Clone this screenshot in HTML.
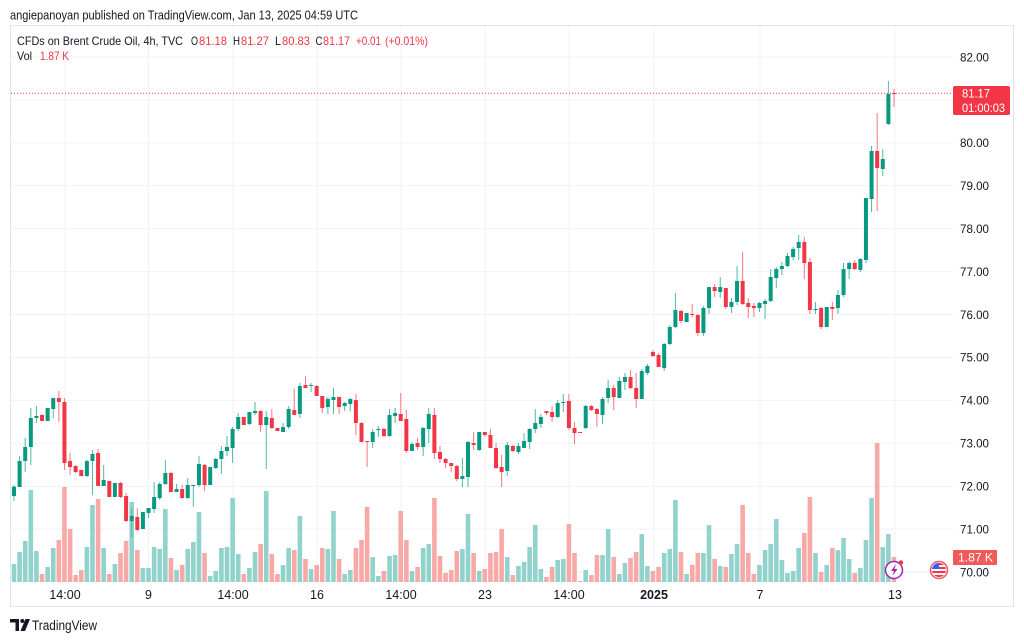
<!DOCTYPE html>
<html>
<head>
<meta charset="utf-8">
<style>
html,body{margin:0;padding:0;background:#fff;}
body{width:1024px;height:641px;overflow:hidden;}
svg{display:block;font-family:"Liberation Sans",sans-serif;}
</style>
</head>
<body>
<svg id="c" width="1024" height="641" viewBox="0 0 1024 641" xmlns="http://www.w3.org/2000/svg">
<rect x="0" y="0" width="1024" height="641" fill="#fff"/>
<text x="10" y="19.5" font-size="12.5" fill="#131722" textLength="348" lengthAdjust="spacingAndGlyphs">angiepanoyan published on TradingView.com, Jan 13, 2025 04:59 UTC</text>
<rect x="10.5" y="25.5" width="1003" height="581" fill="#fff" stroke="#e0e3eb" stroke-width="1"/>
<defs><clipPath id="pane"><rect x="11" y="26" width="942" height="556"/></clipPath>
<clipPath id="flag"><circle cx="939" cy="570" r="7"/></clipPath></defs>
<g id="grid" stroke="#f0f2f6" stroke-width="1"></g>
<g id="vol" clip-path="url(#pane)"></g>
<line x1="11" y1="93.3" x2="953" y2="93.3" stroke="#f23645" stroke-width="1" stroke-dasharray="1,2"/>
<g id="cnd" clip-path="url(#pane)"></g>
<g id="plab" font-size="12" fill="#131722"></g>
<g id="tlab" font-size="12.5" fill="#131722" text-anchor="middle"></g>

<!-- legend -->
<g font-size="12">
<text x="17" y="45" fill="#131722" textLength="166" lengthAdjust="spacingAndGlyphs">CFDs on Brent Crude Oil, 4h, TVC</text>
<text x="191" y="45" fill="#131722" textLength="7" lengthAdjust="spacingAndGlyphs">O</text><text x="199" y="45" fill="#f23645" textLength="28" lengthAdjust="spacingAndGlyphs">81.18</text>
<text x="233" y="45" fill="#131722" textLength="7" lengthAdjust="spacingAndGlyphs">H</text><text x="241" y="45" fill="#f23645" textLength="28" lengthAdjust="spacingAndGlyphs">81.27</text>
<text x="275" y="45" fill="#131722" textLength="6" lengthAdjust="spacingAndGlyphs">L</text><text x="282" y="45" fill="#f23645" textLength="28" lengthAdjust="spacingAndGlyphs">80.83</text>
<text x="315.5" y="45" fill="#131722" textLength="7" lengthAdjust="spacingAndGlyphs">C</text><text x="323" y="45" fill="#f23645" textLength="27" lengthAdjust="spacingAndGlyphs">81.17</text>
<text x="356" y="45" fill="#f23645" textLength="25" lengthAdjust="spacingAndGlyphs">+0.01</text>
<text x="385" y="45" fill="#f23645" textLength="43" lengthAdjust="spacingAndGlyphs">(+0.01%)</text>
<text x="17" y="60" fill="#131722" textLength="15" lengthAdjust="spacingAndGlyphs">Vol</text>
<text x="40" y="60" fill="#f23645" textLength="29" lengthAdjust="spacingAndGlyphs">1.87 K</text>
</g>

<!-- price label -->
<rect x="953" y="86" width="57" height="29" rx="2" fill="#f23645"/>
<text x="962" y="97.5" font-size="12" fill="#fff" textLength="28" lengthAdjust="spacingAndGlyphs">81.17</text>
<text x="962" y="112" font-size="12" fill="#fff" textLength="43" lengthAdjust="spacingAndGlyphs">01:00:03</text>
<!-- volume label -->
<rect x="953" y="550" width="44" height="15" rx="1" fill="#f05a5a"/>
<text x="958" y="561.5" font-size="11.5" fill="#fff" textLength="35" lengthAdjust="spacingAndGlyphs">1.87 K</text>

<!-- icons -->
<circle cx="894" cy="570" r="8.5" fill="#fff" stroke="#9c27b0" stroke-width="1.5"/>
<path d="M896 564 L891 571 H894 L892.5 576 L897.5 569 H894.5 Z" fill="#9c27b0"/>
<circle cx="901" cy="562.5" r="2.2" fill="#f23645"/>
<circle cx="939" cy="570" r="8.5" fill="#fff" stroke="#f7525f" stroke-width="1.5"/>
<g clip-path="url(#flag)">
<rect x="931" y="563" width="16" height="15" fill="#fff"/>
<rect x="931" y="563" width="16" height="2" fill="#f23645"/>
<rect x="931" y="567" width="16" height="2" fill="#f23645"/>
<rect x="931" y="571" width="16" height="2" fill="#f23645"/>
<rect x="931" y="575" width="16" height="2" fill="#f23645"/>
<rect x="931" y="563" width="8" height="6" fill="#2962ff"/>
</g>

<!-- logo -->
<path d="M10 619 H19 V631 H15.5 V622.5 H10 Z" fill="#131722"/>
<circle cx="22.3" cy="621" r="2" fill="#131722"/>
<path d="M25.5 619 H30 L25 631 H20.5 Z" fill="#131722"/>
<text x="32" y="630" font-size="13.5" fill="#131722" textLength="65" lengthAdjust="spacingAndGlyphs">TradingView</text>
</svg>
<script>
(function(){
var NS="http://www.w3.org/2000/svg";
function el(tag,attrs,parent,txt){var e=document.createElementNS(NS,tag);for(var k in attrs)e.setAttribute(k,attrs[k]);if(txt!==undefined)e.textContent=txt;parent.appendChild(e);return e;}
var grid=document.getElementById('grid');
for(var p=70;p<=82;p++){var y=57+(82-p)*42.92;el('line',{x1:11,y1:y,x2:953,y2:y},grid);}
var tx=[[65,'14:00'],[148.5,'9'],[233,'14:00'],[317,'16'],[401,'14:00'],[485,'23'],[569,'14:00'],[654,'2025'],[760,'7'],[895,'13']];
tx.forEach(function(t){el('line',{x1:t[0],y1:26,x2:t[0],y2:582},grid);});
var tl=document.getElementById('tlab');
tx.forEach(function(t){var a={x:t[0],y:599};if(t[1]==='2025')a['font-weight']='bold';el('text',a,tl,t[1]);});
var pl=document.getElementById('plab');
for(var p=70;p<=82;p++){if(p===81)continue;var y=57+(82-p)*42.92;el('text',{x:960,y:y+4.3,textLength:29,lengthAdjust:'spacingAndGlyphs'},pl,p.toFixed(2));}
var D=[
[491,496,491,496,'r',572],
[486.7,496,485,501,'g',564],[461,487,456,487,'g',552],[447,461,438,472,'g',541],[418,447,408,465,'g',490],[416,418,406,423,'g',551],
[415,421,414,421,'r',574],[408,421,408,421,'g',567],[398,409,398,418,'g',548],[398,402,391,422,'r',540],[402,463,398,470,'r',487],
[461,467,453,475,'r',529],[466,472,465,473,'r',575],[470,476,470,476,'r',570],[461,476,460,477,'g',547],[454,461,450,495,'g',505],
[453,486,449,486,'r',499],[480,486,465,486,'g',548],[481,497,481,497,'r',574],[483,497,483,497,'g',564],[483,497,482,498,'r',553],
[496,521,493,522,'r',541],[516,521,508,537,'g',502],[517,530,508,531,'r',550],[512,529,512,529,'g',568],[508,513,508,518,'g',568],
[497,509,482,513,'g',547],[484,498,482,500,'g',549],[473,484,460,485,'g',509],[473,492,472,492,'r',558],[489,492,484,492,'g',570],
[489,498,485,499,'r',565],[485,498,478,499,'g',549],[485,486,485,507,'g',542],[464,485,456,487,'g',512],[465,485,464,491,'r',553],
[467,485,467,485,'g',576],[459,468,458,469,'g',571],[451,459,446,474,'g',548],[447,451,436,456,'g',547],[429,448,427,463,'g',498],
[417,429,413,431,'g',554],[417,425,417,425,'r',574],[412,424,412,425,'g',568],[411,413,402,415,'g',552],[411,425,410,432,'r',544],
[417,425,411,469,'g',491],[418,428,409,429,'r',554],[428,431,428,431,'r',574],[427,432,423,432,'g',565],[409,427,406,429,'g',548],
[410,415,389,415,'r',550],[386,414,383,418,'g',516],[385,388,376,388,'r',559],[385,386,383,392,'g',569],[386,396,385,396,'r',565],
[396,408,396,413,'r',548],[399,407,397,414,'g',549],[397,400,388,414,'g',511],[397,407,397,414,'r',559],[403,406,402,411,'g',574],
[399,404,398,411,'g',570],[400,423,394,435,'r',548],[423,442,422,442,'r',540],[441,442,441,467,'r',507],[432,442,429,448,'g',557],
[429,430,426,437,'g',576],[429,436,428,437,'r',571],[415,436,409,437,'g',556],[413,416,408,423,'g',555],[414,421,393,421,'r',511],
[419,451,410,453,'r',540],[444,451,442,451,'g',571],[443,447,438,450,'r',567],[428,447,427,456,'g',548],[414,429,408,443,'g',544],
[415,453,408,459,'r',498],[452,459,446,463,'r',556],[459,463,458,468,'r',573],[463,466,463,472,'r',570],[466,479,465,481,'r',551],
[476,479,458,487,'g',549],[442,477,441,487,'g',514],[443,445,432,450,'r',553],[432,450,432,451,'g',571],[432,435,432,437,'r',569],
[435,448,429,448,'r',553],[448,468,443,469,'r',552],[467,472,455,487,'r',529],[445,471,442,476,'g',557],[446,451,445,452,'r',575],
[446,452,443,454,'g',566],[441,448,433,448,'g',562],[429,442,428,449,'g',547],[423,429,409,433,'g',525],[417,424,414,428,'g',569],
[411,413,411,415,'r',577],[412,417,406,422,'r',567],[403,417,400,418,'g',560],[402,403,394,412,'g',559],[401,428,394,430,'r',524],
[428,433,422,444,'r',553],[432,433,432,433,'r',581],[406,428,405,429,'g',570],[406,410,405,411,'r',575],[409,414,408,427,'r',555],
[399,415,397,424,'g',555],[388,398,380,403,'g',529],[388,397,385,410,'r',557],[381,398,377,398,'g',574],[377,382,373,390,'g',563],
[377,388,370,389,'r',558],[388,399,373,408,'r',552],[371,399,369,399,'g',534],[366,373,364,375,'g',566],[352,356,350,357,'r',571],
[355,367,353,367,'r',567],[344,368,343,371,'g',553],[327,344,325,345,'g',549],[310,327,293,328,'g',500],[311,321,310,323,'r',552],
[313,322,313,322,'g',574],[314,315,304,317,'r',565],[315,333,314,336,'r',553],[308,333,306,336,'g',553],[287,308,287,314,'g',525],
[287,291,284,297,'r',559],[287,292,277,298,'g',566],[288,307,288,309,'r',567],[302,307,298,313,'g',554],[281,302,266,305,'g',544],
[281,304,252,305,'r',505],[303,307,298,318,'r',553],[306,308,303,317,'r',574],[303,308,302,312,'g',565],[301,304,299,319,'g',550],
[277,301,269,302,'g',544],[269,278,267,288,'g',519],[266,269,262,275,'g',560],[256,266,253,267,'g',573],[249,257,247,260,'g',571],
[242,248,235,260,'g',548],[242,263,237,279,'r',533],[262,310,258,314,'r',497],[309,310,302,314,'g',553],[308,327,307,329,'r',572],
[307,327,307,327,'g',565],[307,309,302,320,'r',548],[295,308,290,314,'g',550],[269,295,263,297,'g',538],[263,269,262,279,'g',559],
[263,269,260,270,'r',573],[259,270,258,272,'g',568],[198,260,198,263,'g',540],[151,199,146,212,'g',498],[151,168,113,211,'r',443],
[159,169,149,176,'g',547],[94,124,81,125,'g',534],[93,94,89,107,'r',557]
];
var vg=document.getElementById('vol'),cg=document.getElementById('cnd');
D.forEach(function(d,k){
  var i=k-1,cx=14+5.605*i;
  var g=d[4]==='g';
  var vc=g?'#92d2cc':'#f7a9a7';
  el('rect',{x:(cx-2.3).toFixed(2),y:d[5],width:4.6,height:Math.max(1,582-d[5]),fill:vc},vg);
  var cc=g?'#089981':'#f23645';
  var wc=g?'#4fb8a5':'#f77680';
  el('rect',{x:(cx-0.5).toFixed(2),y:d[2],width:1,height:Math.max(1,d[3]-d[2]),fill:wc},cg);
  el('rect',{x:(cx-2).toFixed(2),y:d[0],width:4,height:Math.max(1,d[1]-d[0]),fill:cc},cg);
});
})();
</script>
</body>
</html>
